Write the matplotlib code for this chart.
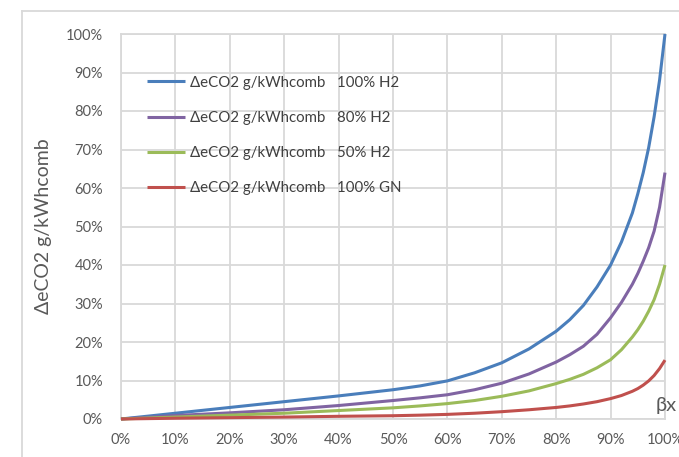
import matplotlib
matplotlib.use('Agg')
import matplotlib.pyplot as plt
from matplotlib.lines import Line2D
from matplotlib.ticker import PercentFormatter

# beta x (share) and delta eCO2 values, in %
x_h2_100 = [0, 10, 20, 30, 40, 50, 55, 60, 65, 70, 75, 80, 82.5, 85, 87.5, 90, 92, 94, 95, 96, 97, 98, 99, 100]
y_h2_100 = [0, 1.5, 3.0, 4.5, 6.0, 7.6, 8.6, 9.9, 12.0, 14.6, 18.2, 22.8, 25.8, 29.5, 34.3, 40.0, 46, 53.5, 58.5, 64, 70.5, 78.5, 88, 100]

x_h2_80 = [0, 10, 20, 30, 40, 50, 55, 60, 65, 70, 75, 80, 82.5, 85, 87.5, 90, 92, 94, 95, 96, 97, 98, 99, 100]
y_h2_80 = [0, 0.9, 1.6, 2.4, 3.5, 4.8, 5.5, 6.3, 7.6, 9.3, 11.7, 14.8, 16.7, 18.9, 22.0, 26.3, 30.3, 35.0, 37.8, 41.0, 44.5, 48.8, 55.0, 64]

x_h2_50 = [0, 10, 20, 30, 40, 50, 55, 60, 65, 70, 75, 80, 82.5, 85, 87.5, 90, 92, 94, 95, 96, 97, 98, 99, 100]
y_h2_50 = [0, 0.5, 1.0, 1.5, 2.2, 2.9, 3.4, 4.0, 4.8, 5.9, 7.3, 9.2, 10.3, 11.6, 13.3, 15.4, 18.0, 21.3, 23.2, 25.4, 28.0, 31.0, 35.0, 40]

x_gn = [0, 10, 20, 30, 40, 50, 55, 60, 65, 70, 75, 80, 82.5, 85, 87.5, 90, 92, 94, 95, 96, 97, 98, 99, 100]
y_gn = [0, 0.2, 0.35, 0.5, 0.7, 0.85, 1.0, 1.2, 1.5, 1.9, 2.4, 3.0, 3.4, 3.9, 4.5, 5.3, 6.1, 7.2, 7.9, 8.8, 9.9, 11.3, 13.1, 15.3]

labels = ['\u0394eCO2 g/kWhcomb   100% H2',
          '\u0394eCO2 g/kWhcomb   80% H2',
          '\u0394eCO2 g/kWhcomb   50% H2',
          '\u0394eCO2 g/kWhcomb   100% GN']
colors = ['#4a7ebb', '#8064a2', '#9bbb59', '#c0504d']

plt.rcParams['font.family'] = ['Lato', 'DejaVu Sans']

fig = plt.figure(figsize=(6.79, 4.57), dpi=100)
ax = fig.add_axes([121/679, 38/457, 544/679, 385/457])

series = [(x_h2_100, y_h2_100), (x_h2_80, y_h2_80), (x_h2_50, y_h2_50), (x_gn, y_gn)]
for (xs, ys), lab, c in zip(series, labels, colors):
    ax.plot([v/100 for v in xs], [v/100 for v in ys], color=c, lw=2.2, label=lab,
            clip_on=False, solid_capstyle='butt', solid_joinstyle='round', zorder=3)

ax.set_xlim(0, 1)
ax.set_ylim(0, 1)
ax.set_xticks([i/10 for i in range(11)])
ax.set_yticks([i/10 for i in range(11)])
ax.xaxis.set_major_formatter(PercentFormatter(1.0, decimals=0))
ax.yaxis.set_major_formatter(PercentFormatter(1.0, decimals=0))
ax.grid(True, color='#d9d9d9', lw=1.3)
ax.set_axisbelow(True)
for s in ax.spines.values():
    s.set_color('#d9d9d9')
    s.set_linewidth(1.3)
ax.tick_params(length=0, labelsize=10.5, labelcolor='#595959')
ax.tick_params(axis='y', pad=13)
ax.tick_params(axis='x', pad=10)

ax.set_ylabel('\u0394eCO2 g/kWhcomb', fontsize=14, color='#595959', labelpad=10)
ax.text(0.983, 0.036, '\u03b2x', transform=ax.transAxes, fontsize=14.5, color='#595959',
        ha='left', va='center', clip_on=False, zorder=5)

ax.legend(loc='upper left', bbox_to_anchor=(0.048, 0.892), frameon=False, fontsize=10.8,
          handlelength=2.5, handletextpad=0.35, labelspacing=1.42, borderpad=0,
          borderaxespad=0, labelcolor='#404040')

# outer chart border (partially visible)
fig.add_artist(Line2D([22/679, 22/679], [0, 1 - 11/457], transform=fig.transFigure,
                      color='#d9d9d9', lw=1.3))
fig.add_artist(Line2D([22/679, 1], [1 - 11/457, 1 - 11/457], transform=fig.transFigure,
                      color='#d9d9d9', lw=1.3))

fig.savefig('out.png', dpi=100)
